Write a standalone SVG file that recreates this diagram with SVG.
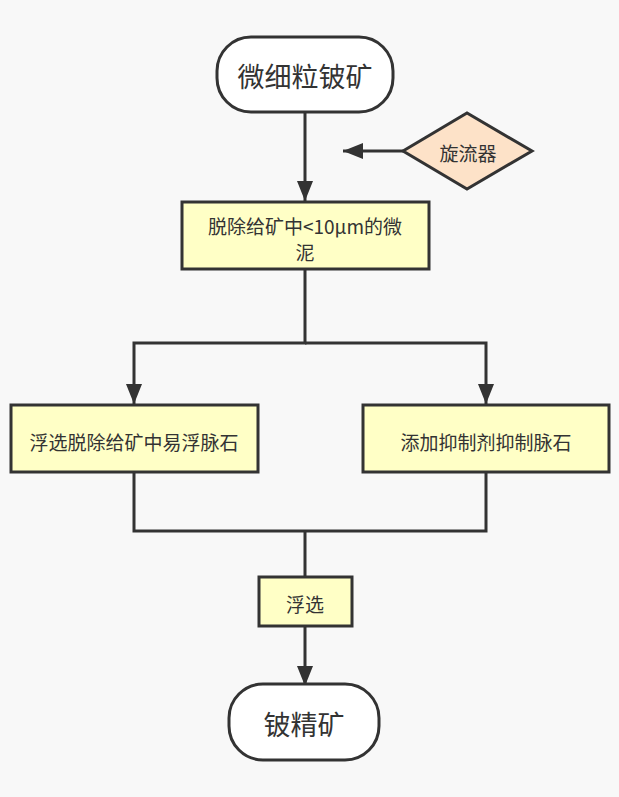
<svg xmlns="http://www.w3.org/2000/svg" width="619" height="797" viewBox="0 0 619 797">
<style>
.bg{fill:#f8f8f8}
.term{fill:#ffffff;stroke:#333;stroke-width:3}
.proc{fill:#ffffc6;stroke:#333;stroke-width:3}
.dec{fill:#fde2c8;stroke:#333;stroke-width:3}
.ln{fill:none;stroke:#333;stroke-width:3}
text{font-family:"Noto Sans CJK SC","Liberation Sans",sans-serif;fill:#333;text-anchor:middle;dominant-baseline:central}
.big{font-size:27px}
.sm{font-size:19px}
</style>
<defs>
<marker id="ah" viewBox="0 0 20 16" refX="20" refY="8" markerWidth="20" markerHeight="16" markerUnits="userSpaceOnUse" orient="auto">
<path d="M0,0 L20,8 L0,16 z" fill="#333"/>
</marker>
</defs>
<rect class="bg" x="0" y="0" width="619" height="797"/>
<g id="connectors">
<path class="ln" d="M305,113 V201" marker-end="url(#ah)"/>
<path class="ln" d="M403,151 H343" marker-end="url(#ah)"/>
<path class="ln" d="M305,269 V343 H134 V404" marker-end="url(#ah)"/>
<path class="ln" d="M305,343 H486 V404" marker-end="url(#ah)"/>
<path class="ln" d="M134,472 V531 H486 V472"/>
<path class="ln" d="M305,531 V577"/>
<path class="ln" d="M305,626 V686" marker-end="url(#ah)"/>
</g>
<g id="n-start">
<rect class="term" x="217" y="37" width="176" height="75" rx="34"/>
<text class="big" x="305" y="75">微细粒铍矿</text>
</g>
<g id="n-cyclone">
<polygon class="dec" points="403,151 467,113 532,151 467,189"/>
<text class="sm" x="468" y="152">旋流器</text>
</g>
<g id="n-deslime">
<rect class="proc" x="182" y="202" width="247" height="67"/>
<text class="sm" x="305" y="225">脱除给矿中&lt;10μm的微</text>
<text class="sm" x="305" y="251">泥</text>
</g>
<g id="n-left">
<rect class="proc" x="11" y="405" width="247" height="67"/>
<text class="sm" x="134" y="441">浮选脱除给矿中易浮脉石</text>
</g>
<g id="n-right">
<rect class="proc" x="363" y="405" width="246" height="67"/>
<text class="sm" x="486" y="441">添加抑制剂抑制脉石</text>
</g>
<g id="n-float">
<rect class="proc" x="259" y="577" width="93" height="49"/>
<text class="sm" x="305" y="603">浮选</text>
</g>
<g id="n-end">
<rect class="term" x="229" y="684" width="150" height="76" rx="34"/>
<text class="big" x="304" y="723">铍精矿</text>
</g>
</svg>
